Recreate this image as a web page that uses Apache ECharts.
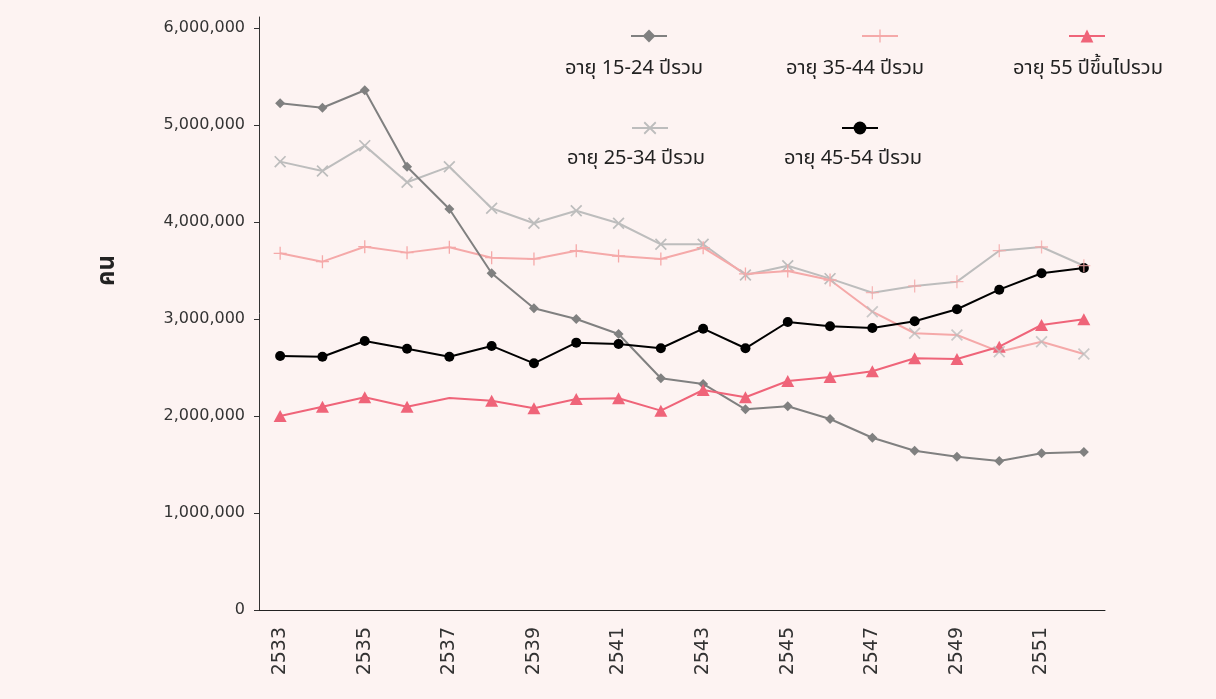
<!DOCTYPE html>
<html><head><meta charset="utf-8">
<script src="https://cdn.jsdelivr.net/npm/echarts@6/dist/echarts.min.js"></script>
<style>html,body{margin:0;padding:0;background:#fdf3f2;}#c{width:1216px;height:699px;}</style>
</head><body><div id="c"></div>
<script>
const years = ['2533','2534','2535','2536','2537','2538','2539','2540','2541','2542','2543','2544','2545','2546','2547','2548','2549','2550','2551','2552'];
const yTicks = [0, 1000000, 2000000, 3000000, 4000000, 5000000, 6000000];
const names = ['อายุ 15-24 ปีรวม', 'อายุ 25-34 ปีรวม', 'อายุ 35-44 ปีรวม', 'อายุ 45-54 ปีรวม', 'อายุ 55 ปีขึ้นไปรวม'];
const age15_24 = [5224000,5178000,5358000,4570000,4134000,3471000,3110000,3000000,2845000,2389000,2330000,2069000,2100000,1969000,1776000,1642000,1580000,1536000,1615000,1629000];
const age25_34 = [4622000,4526000,4787000,4409000,4570000,4141000,3987000,4116000,3987000,3770000,3770000,3454000,3549000,3416000,3271000,3340000,3385000,3704000,3742000,3549000];
const age35_44 = [3677000,3591000,3745000,3684000,3739000,3632000,3619000,3704000,3649000,3619000,3735000,3464000,3495000,3402000,3075000,2853000,2835000,2663000,2766000,2639000];
const age45_54 = [2619000,2611000,2773000,2694000,2611000,2722000,2543000,2756000,2742000,2698000,2900000,2698000,2969000,2925000,2907000,2976000,3100000,3302000,3471000,3526000];
const age55up = [2000000,2096000,2193000,2096000,2186000,2158000,2079000,2175000,2182000,2055000,2268000,2193000,2361000,2402000,2461000,2595000,2588000,2714000,2938000,2997000];
// from this index on, the x / + markers of the 25-34 and 35-44 series sit on the other line (as in the source)
const SWAP = 14;
const MISSING_TRIANGLE = 4;

const C1 = '#808080', C2 = '#bdbdbd', C3 = '#f5a9a9', C4 = '#000000', C5 = '#ef6479';
const xPath = 'path://M0,1.2 L1.2,0 L12,10.8 L10.8,12 Z M10.8,0 L12,1.2 L1.2,12 L0,10.8 Z';
const plusPath = 'path://M5.4,0 L6.6,0 L6.6,5.4 L12,5.4 L12,6.6 L6.6,6.6 L6.6,12 L5.4,12 L5.4,6.6 L0,6.6 L0,5.4 L5.4,5.4 Z';
const FONT = 'DejaVu Sans';
const THAI = '"Noto Sans Thai", "Noto Sans", "DejaVu Sans", sans-serif';

const chart = echarts.init(document.getElementById('c'));
const legendBase = {padding: 0, itemWidth: 36, itemHeight: 16, formatter: () => '', selectedMode: false, textStyle: {fontSize: 1}};
const legendSpots = [[630, 28, 0], [861, 28, 2], [1068, 28, 4], [631, 120, 1], [841, 120, 3]];
const labelSpots = [[634, 70, 0], [855, 70, 2], [1088, 70, 4], [636, 160, 1], [853, 160, 3]];
chart.setOption({
  backgroundColor: '#fdf3f2',
  animation: false,
  grid: {left: 259, right: 111, top: 17, bottom: 89, containLabel: false},
  legend: legendSpots.map(([x, y, k]) => Object.assign({data: [names[k]], left: x, top: y}, legendBase)),
  graphic: labelSpots.map(([x, y, k]) => ({type: 'text', x: x, y: y,
    style: {text: names[k], fontSize: 20, fontFamily: THAI, fill: '#222', align: 'center', verticalAlign: 'middle'}})),
  xAxis: {
    type: 'category', data: years, boundaryGap: true,
    axisLine: {lineStyle: {color: '#222', width: 1}},
    axisTick: {show: false},
    axisLabel: {interval: 1, rotate: 90, margin: 17, fontFamily: FONT, fontSize: 19, color: '#333'}
  },
  yAxis: {
    type: 'value', min: 0, max: 6113000,
    name: 'คน', nameLocation: 'middle', nameGap: 138, nameRotate: 90,
    nameTextStyle: {fontFamily: THAI, fontSize: 24, fontWeight: 'bold', color: '#222', padding: [0, 0, 0, 86]},
    axisLine: {show: true, lineStyle: {color: '#333', width: 1}},
    axisTick: {show: true, length: 5, customValues: yTicks, lineStyle: {color: '#333'}},
    splitLine: {show: false},
    axisLabel: {customValues: yTicks, margin: 14, fontFamily: FONT, fontSize: 16, color: '#333',
      formatter: v => v.toLocaleString('en-US')}
  },
  series: [
    {name: names[0], type: 'line', data: age15_24, color: C1, symbol: 'diamond', symbolSize: 10,
      lineStyle: {width: 2, color: C1}, itemStyle: {color: C1}, z: 3},
    {name: names[1], type: 'line', color: C2, symbol: xPath, symbolSize: 12,
      data: age25_34.map((v, i) => i < SWAP ? v : {value: v, symbol: 'none'}),
      lineStyle: {width: 2, color: C2}, itemStyle: {color: C2}, z: 2},
    {name: names[2], type: 'line', color: C3, symbol: plusPath, symbolSize: 13,
      data: age35_44.map((v, i) => i < SWAP ? v : {value: v, symbol: 'none'}),
      lineStyle: {width: 2, color: C3}, itemStyle: {color: C3}, z: 2},
    {name: names[3], type: 'line', data: age45_54, color: C4, symbol: 'circle', symbolSize: 10,
      lineStyle: {width: 2, color: C4}, itemStyle: {color: C4}, z: 4},
    {name: names[4], type: 'line', color: C5, symbol: 'triangle', symbolSize: [13, 12],
      data: age55up.map((v, i) => i === MISSING_TRIANGLE ? {value: v, symbol: 'none'} : v),
      lineStyle: {width: 2, color: C5}, itemStyle: {color: C5}, z: 3},
    {name: 'x-markers', type: 'scatter', symbol: xPath, symbolSize: 12, itemStyle: {color: C2}, z: 5,
      data: years.slice(SWAP).map((y, k) => [y, age35_44[SWAP + k]])},
    {name: 'plus-markers', type: 'scatter', symbol: plusPath, symbolSize: 13, itemStyle: {color: C3}, z: 5,
      data: years.slice(SWAP).map((y, k) => [y, age25_34[SWAP + k]])}
  ]
});
</script></body></html>
